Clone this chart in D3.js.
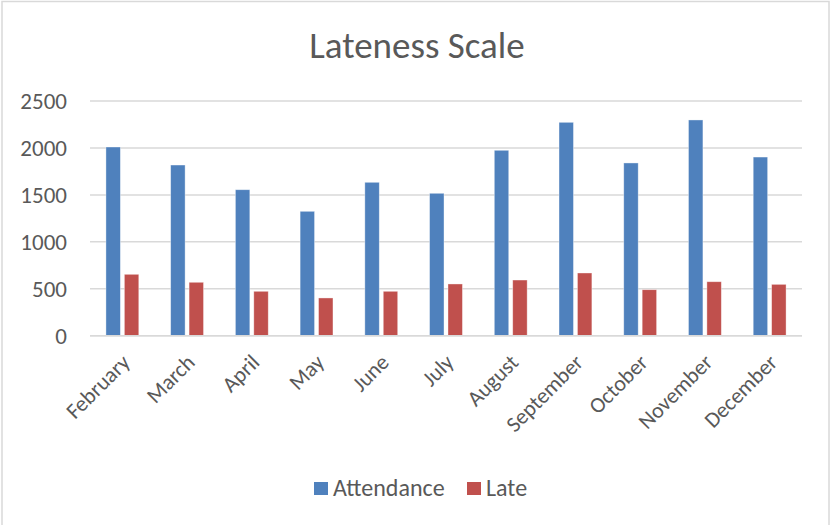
<!DOCTYPE html>
<html>
<head>
<meta charset="utf-8">
<script src="https://cdn.jsdelivr.net/npm/d3@7"></script>
<style>
  body { margin: 0; background: #fff; }
  text { font-family: "Carlito", "Open Sans", sans-serif; fill: #595959; }
</style>
</head>
<body>
<svg id="chart" width="831" height="525"></svg>
<script>
const months = ["February", "March", "April", "May", "June", "July", "August", "September", "October", "November", "December"];
const attendance = [2010, 1818, 1555, 1325, 1634, 1517, 1975, 2273, 1840, 2298, 1903];
const late = [654, 569, 473, 402, 473, 551, 593, 668, 490, 575, 547];
const seriesNames = ["Attendance", "Late"];
const colors = ["#4F81BD", "#C0504D"];
const yTicks = [0, 500, 1000, 1500, 2000, 2500];

const w = 831, h = 525;
const svg = d3.select("#chart");

// chart frame
svg.append("rect")
    .attr("x", 2).attr("y", 1.5)
    .attr("width", 827).attr("height", 540)
    .attr("fill", "#fff")
    .attr("stroke", "#D9D9D9").attr("stroke-width", 1.5);

// bit of text from above the chart that got cropped
svg.append("text")
    .attr("x", 279).attr("y", -7)
    .style("fill", "#000").style("font-size", "24px")
    .text("g");

const x = d3.scaleBand().domain(months).range([90, 802]);
const x1 = d3.scaleBand().domain(seriesNames).range([0, x.bandwidth()])
    .paddingInner(0.216).paddingOuter(0.865);
const y = d3.scaleLinear().domain([0, 2500]).range([335.7, 101]);

// title
svg.append("text")
    .attr("x", 417).attr("y", 57.7)
    .attr("text-anchor", "middle")
    .style("font-size", "37px")
    .text("Lateness Scale");

// gridlines
svg.append("g")
    .selectAll("line")
    .data(yTicks)
    .join("line")
    .attr("x1", 90).attr("x2", 802)
    .attr("y1", d => y(d)).attr("y2", d => y(d))
    .attr("stroke", "#D9D9D9").attr("stroke-width", 1.5);

// y axis labels
const yAxis = d3.axisLeft(y).tickValues(yTicks).tickFormat(d3.format("d")).tickSize(0).tickPadding(0);
const yg = svg.append("g").attr("transform", "translate(67,0)").call(yAxis);
yg.select(".domain").remove();
yg.selectAll("text")
    .style("font-size", "23px")
    .style("font-family", null)
    .attr("fill", null);

// bars
const rows = months.map((m, i) => ({ month: m, values: [attendance[i], late[i]] }));
const groups = svg.append("g")
    .selectAll("g")
    .data(rows)
    .join("g")
    .attr("transform", d => `translate(${x(d.month)},0)`);

groups.selectAll("rect")
    .data(d => d.values.map((v, k) => ({ key: seriesNames[k], value: v, color: colors[k] })))
    .join("rect")
    .attr("x", d => x1(d.key))
    .attr("width", x1.bandwidth())
    .attr("y", d => y(d.value))
    .attr("height", d => y(0) - y(d.value))
    .attr("fill", d => d.color)
    .attr("stroke", "rgba(255,255,255,0.5)")
    .attr("stroke-width", 0.75);

// x axis line
svg.append("line")
    .attr("x1", 90).attr("x2", 802)
    .attr("y1", y(0)).attr("y2", y(0))
    .attr("stroke", "#D9D9D9").attr("stroke-width", 1.5);

// month labels
const xAxis = d3.axisBottom(x).tickSize(0).tickPadding(0);
const xg = svg.append("g").attr("transform", `translate(0,${y(0)})`).call(xAxis);
xg.select(".domain").remove();
xg.selectAll("text")
    .style("font-size", "22px")
    .style("font-family", null)
    .attr("fill", null)
    .attr("text-anchor", "end")
    .attr("dy", null)
    .attr("y", 0)
    .attr("transform", "translate(9,28) rotate(-45)");

// legend
const legend = svg.append("g");
const legendX = [314, 467];
seriesNames.forEach((name, k) => {
  legend.append("rect")
      .attr("x", legendX[k]).attr("y", 482)
      .attr("width", 14).attr("height", 13)
      .attr("fill", colors[k]);
  legend.append("text")
      .attr("x", legendX[k] + 19).attr("y", 496)
      .style("font-size", "24px")
      .text(name);
});
</script>
</body>
</html>
